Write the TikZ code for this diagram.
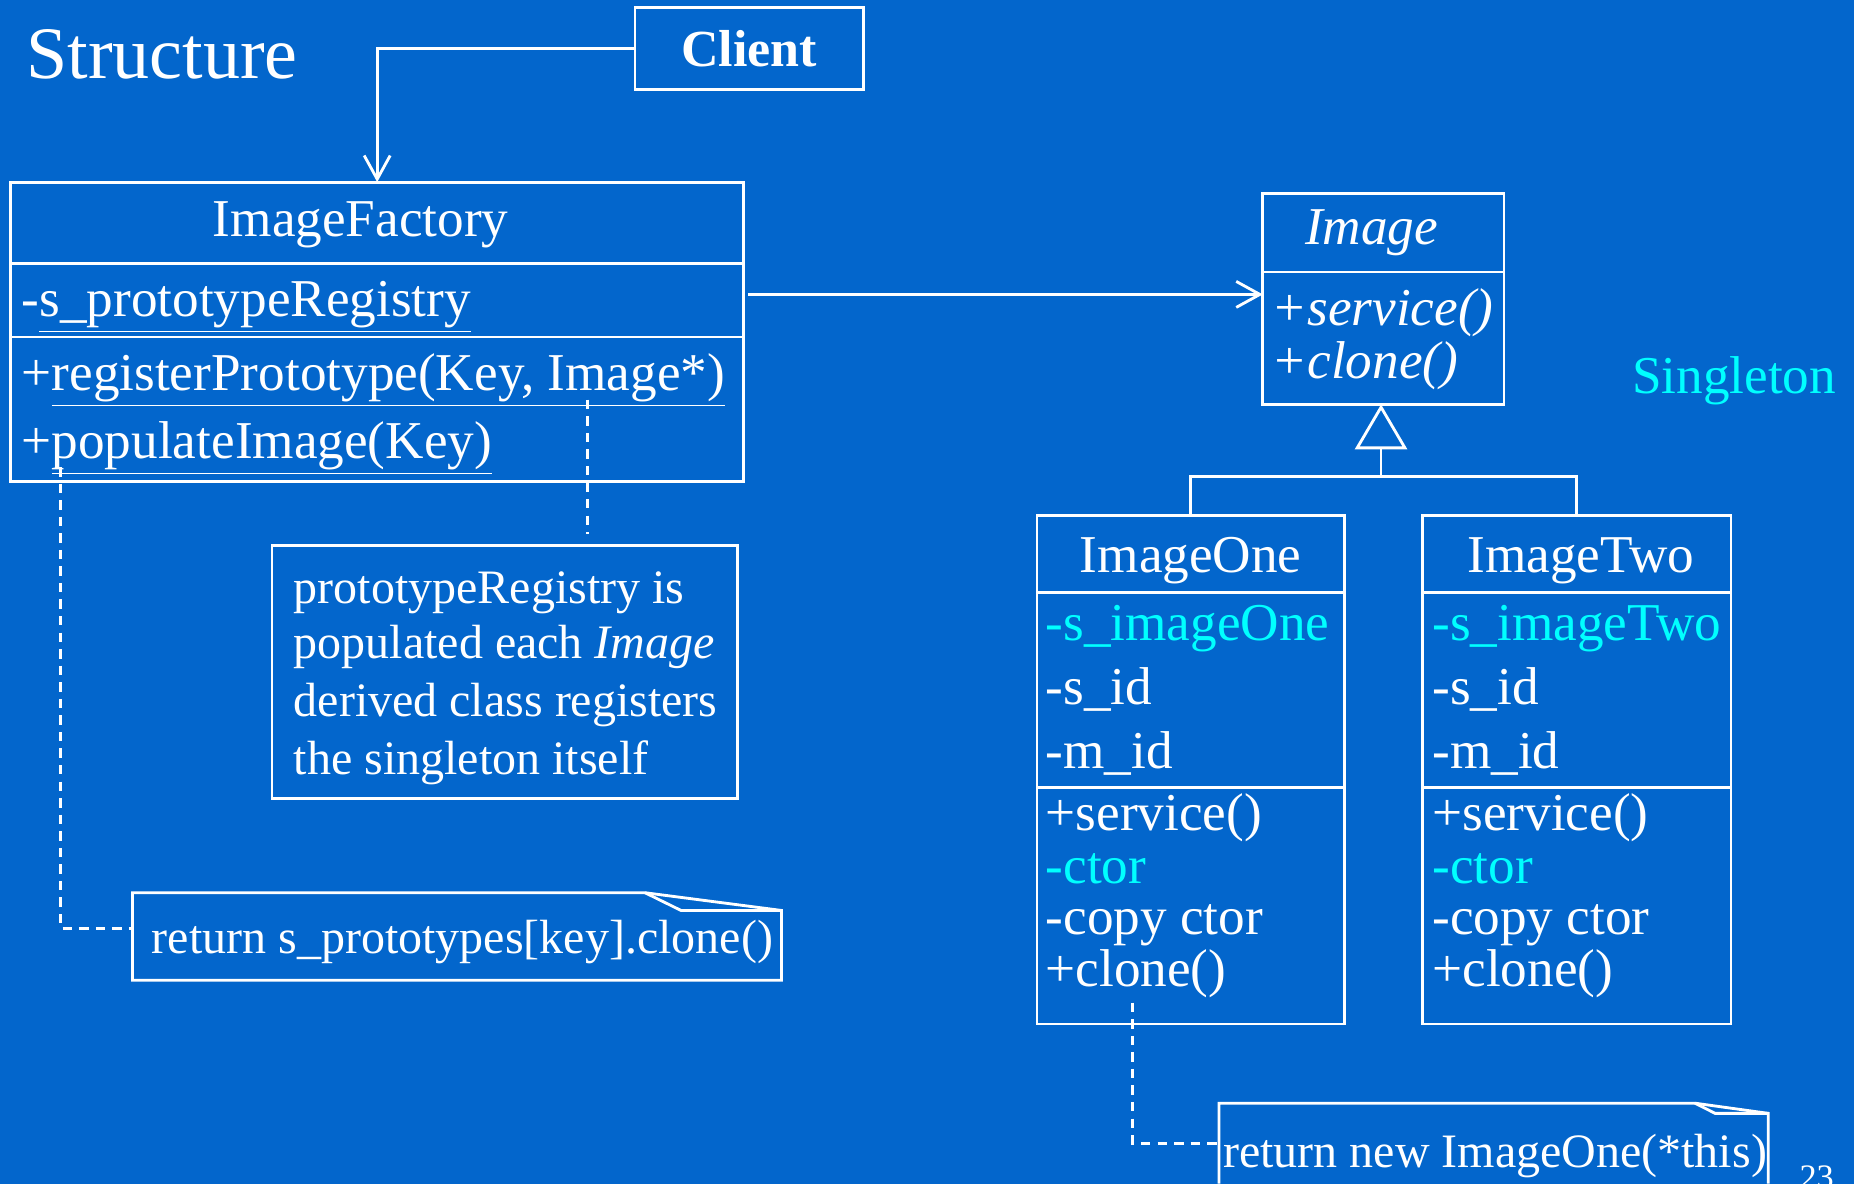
\documentclass[tikz,border=0pt]{standalone}
\usepackage{fontspec}
\setmainfont{Liberation Serif}
\usetikzlibrary{arrows.meta,calc}
\definecolor{bg}{RGB}{3,102,204}
\definecolor{cy}{RGB}{0,255,255}
\tikzset{
 umlbox/.style={draw=white, line width=1.2pt, inner sep=0pt, outer sep=0pt},
 txt/.style={text=white, inner sep=0pt, anchor=base west, font=\fontsize{22.5}{27}\selectfont},
 notetxt/.style={txt, font=\fontsize{20.3}{24}\selectfont},
 ctxt/.style={txt, anchor=base},
 cytxt/.style={txt, text=cy},
 link/.style={draw=white, line width=1.2pt},
 assoc/.style={link, -{Straight Barb[length=10pt,width=11pt]}},
 dashlink/.style={link, dash pattern=on 4pt off 3pt},
}
\begin{document}
\begin{tikzpicture}[x=0.5pt,y=-0.5pt]
\fill[bg] (0,0) rectangle (1568,1001.4);
\useasboundingbox (0,0) rectangle (1568,1001.4);

\node[txt, font=\fontsize{31.3}{36}\selectfont] (title) at (22,66) {Structure};

% Client
\node[umlbox, minimum width=96.5pt, minimum height=35pt, text=white, font=\fontsize{22}{26}\selectfont\bfseries] (client) at (633.5,41) {Client};

% ImageFactory
\node[umlbox, minimum width=310pt, minimum height=126.5pt] (factory) at (319,280.5) {};
\draw[link] (9,223) -- (629,223);
\draw[link] (9,285) -- (629,285);
\node[ctxt] (fname) at (305,200) {ImageFactory};
\node[txt] (fattr) at (18,268) {-\underline{s\_prototypeRegistry}};
\node[txt] (fm1) at (18,330) {+\underline{registerPrototype(Key, Image*)}};
\node[txt] (fm2) at (18,388) {+\underline{populateImage(Key)}};

% Image
\node[umlbox, minimum width=102pt, minimum height=89pt] (image) at (1170,253) {};
\draw[link] (1068,230) -- (1272,230);
\node[ctxt] (iname) at (1160,207) {\itshape Image};
\node[txt] (im1) at (1075,275) {\itshape +service()};
\node[txt] (im2) at (1075,320) {\itshape +clone()};

\node[cytxt] (single) at (1380,333) {Singleton};

% ImageOne
\node[umlbox, minimum width=130pt, minimum height=215pt] (one) at (1007,651) {};
\draw[link] (877,501) -- (1137,501);
\draw[link] (877,666) -- (1137,666);
\node[ctxt] (oname) at (1007,484) {ImageOne};
\node[cytxt] (oa1) at (884,542) {-s\_imageOne};
\node[txt] (oa2) at (884,596) {-s\_id};
\node[txt] (oa3) at (884,650) {-m\_id};
\node[txt] (om1) at (884,702) {+service()};
\node[cytxt] (om2) at (884,747) {-ctor};
\node[txt] (om3) at (884,790) {-copy ctor};
\node[txt] (om4) at (884,834) {+clone()};

% ImageTwo
\node[umlbox, minimum width=130.5pt, minimum height=215pt] (two) at (1333.5,651) {};
\draw[link] (1203,501) -- (1464,501);
\draw[link] (1203,666) -- (1464,666);
\node[ctxt] (tname) at (1337,484) {ImageTwo};
\node[cytxt] (ta1) at (1211,542) {-s\_imageTwo};
\node[txt] (ta2) at (1211,596) {-s\_id};
\node[txt] (ta3) at (1211,650) {-m\_id};
\node[txt] (tm1) at (1211,702) {+service()};
\node[cytxt] (tm2) at (1211,747) {-ctor};
\node[txt] (tm3) at (1211,790) {-copy ctor};
\node[txt] (tm4) at (1211,834) {+clone()};

% Note 1
\node[umlbox, minimum width=197pt, minimum height=107pt] (note1) at (427,568) {};
\node[notetxt] (n1a) at (248,510) {prototypeRegistry is};
\node[notetxt] (n1b) at (248,557) {populated each \textit{Image}};
\node[notetxt] (n1c) at (248,606) {derived class registers};
\node[notetxt] (n1d) at (248,655) {the singleton itself};

% Note 2
\node[inner sep=0pt, outer sep=0pt, minimum width=274.5pt, minimum height=37pt] (note2) at (386.5,792) {};
\draw[link] (note2.north west) -- (545.5,755) -- (661,770) -- (note2.south east) -- (note2.south west) -- cycle;
\draw[link] (545.5,755) -- (576,770) -- (661,770);
\node[notetxt] (n2) at (128,806) {return s\_prototypes[key].clone()};

% Note 3
\node[inner sep=0pt, outer sep=0pt, minimum width=232.25pt, minimum height=34pt] (note3) at (1263.25,967) {};
\draw[link] (note3.south west) -- (note3.north west) -- (1433.5,933) -- (1495.5,941.6) -- (note3.south east);
\draw[link] (1433.5,933) -- (1450.5,941.6) -- (1495.5,941.6);
\node[notetxt] (n3) at (1034,987) {return new ImageOne(*this)};

\node[txt, font=\fontsize{14.5}{17}\selectfont] (page) at (1521.5,1005) {23};

% connectors
\draw[assoc] (client.west) -| (factory.north);
\coordinate (fa) at (633,249);
\draw[assoc] (fa) -- (fa -| image.west);
\coordinate (junc) at (1168,403);
\draw[link, -{Triangle[open, length=19pt, width=22pt]}] (junc) -- (junc |- image.south);
\draw[link] (one.north) |- (junc) -| (two.north);

\coordinate (d1) at (497,338);
\draw[dashlink, shorten >=4.5pt] (d1) -- (d1 |- note1.north);
\coordinate (d2) at (51,395);
\draw[dashlink] (d2) |- ([yshift=3.5pt]note2.west);
\coordinate (d3) at (958,848);
\draw[dashlink] (d3) |- (note3.west);
\end{tikzpicture}
\end{document}
